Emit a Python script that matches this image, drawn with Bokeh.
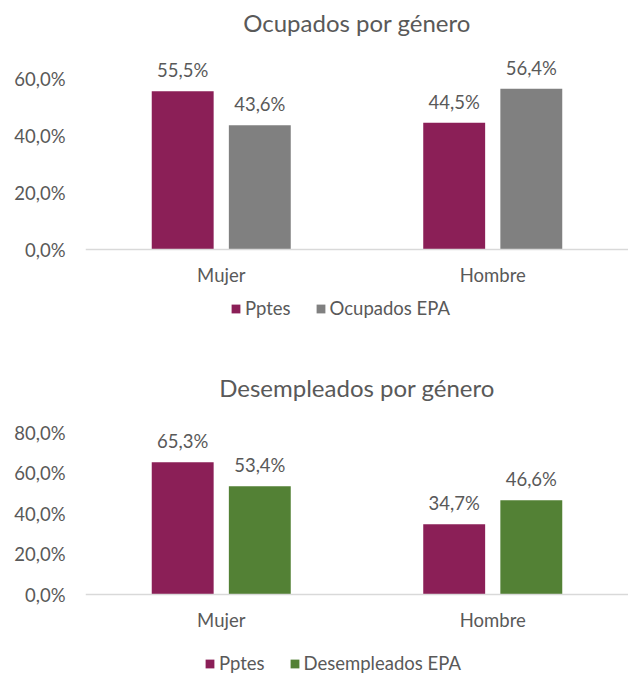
from bokeh.plotting import figure
from bokeh.layouts import column
from bokeh.models import FactorRange, Range1d, FixedTicker, Legend, LegendItem, ColumnDataSource, Span
from bokeh.transform import dodge
from bokeh.core.properties import value
from bokeh.embed import file_html
from bokeh.resources import INLINE

categories = ["Mujer", "Hombre"]
ocup_pptes = [55.5, 44.5]
ocup_epa = [43.6, 56.4]
desemp_pptes = [65.3, 34.7]
desemp_epa = [53.4, 46.6]
ocup_ticks = [0, 20, 40, 60]
ocup_tick_labels = ["0,0%", "20,0%", "40,0%", "60,0%"]
desemp_ticks = [0, 20, 40, 60, 80]
desemp_tick_labels = ["0,0%", "20,0%", "40,0%", "60,0%", "80,0%"]

FONT = "Lato"
TXT = "#595959"
C_PPTES = "#8B1F57"
C_GRAY = "#808080"
C_GREEN = "#538135"
FS = "18.5px"


def fmt(v):
    return ("%.1f" % v).replace(".", ",") + "%"


def make_chart(title, s1, s2, name1, name2, color2, ticks, tick_labels, y0, y1,
               width, height, border_left, border_top, legend_loc):
    src = ColumnDataSource(dict(cat=categories, v1=s1, v2=s2, base=[0] * len(categories),
                                t1=[fmt(v) for v in s1], t2=[fmt(v) for v in s2]))
    p = figure(x_range=FactorRange(*categories), y_range=Range1d(y0, y1),
               width=width, height=height, x_axis_location=None,
               output_backend="svg", toolbar_location=None,
               min_border_left=border_left, min_border_right=0,
               min_border_top=border_top, min_border_bottom=0)
    p.x_range.range_padding = 0
    p.outline_line_color = None
    p.grid.visible = False

    p.title.text = title
    p.title.align = "center"
    p.title.text_font = FONT
    p.title.text_font_size = "24px"
    p.title.text_font_style = "normal"
    p.title.text_color = TXT
    p.title.standoff = 0

    p.add_layout(Span(location=0, dimension="width", line_color="#D9D9D9", line_width=1.5))

    r1 = p.vbar(x=dodge("cat", -0.142, range=p.x_range), top="v1", width=0.228,
                source=src, fill_color=C_PPTES, line_color=None)
    r2 = p.vbar(x=dodge("cat", 0.142, range=p.x_range), top="v2", width=0.228,
                source=src, fill_color=color2, line_color=None)
    for off, col, tcol in ((-0.142, "v1", "t1"), (0.142, "v2", "t2")):
        p.text(x=dodge("cat", off, range=p.x_range), y=col, text=tcol, source=src,
               text_font=value(FONT), text_font_size=value(FS), text_color=TXT,
               text_align="center", text_baseline="middle", y_offset=-21)

    # category labels under the baseline
    p.text(x="cat", y="base", text="cat", source=src,
           text_font=value(FONT), text_font_size=value(FS), text_color=TXT,
           text_align="center", text_baseline="middle", y_offset=25)

    ya = p.yaxis[0]
    ya.ticker = FixedTicker(ticks=ticks)
    ya.major_label_overrides = {t: l for t, l in zip(ticks, tick_labels)}
    ya.axis_line_color = None
    ya.major_tick_line_color = None
    ya.minor_tick_line_color = None
    ya.major_tick_out = 0
    ya.major_tick_in = 0
    ya.major_label_standoff = 20
    ya.major_label_text_font = FONT
    ya.major_label_text_font_size = FS
    ya.major_label_text_color = TXT

    legend = Legend(items=[LegendItem(label=name1, renderers=[r1]),
                           LegendItem(label=name2, renderers=[r2])],
                    orientation="horizontal", location=legend_loc)
    legend.border_line_color = None
    legend.background_fill_alpha = 0
    legend.label_text_font = FONT
    legend.label_text_font_size = FS
    legend.label_text_color = TXT
    legend.glyph_width = 11
    legend.glyph_height = 11
    legend.label_standoff = 4
    legend.spacing = 24
    legend.padding = 0
    legend.margin = 0
    p.add_layout(legend, "center")
    return p


# top chart: frame 36..345 px, zero line 213 px below frame top, 2.85 px per percent
p1 = make_chart("Ocupados por género", ocup_pptes, ocup_epa, "Pptes", "Ocupados EPA", C_GRAY,
                ocup_ticks, ocup_tick_labels, -96 / 2.85, 213 / 2.85,
                628, 345, 83, 36, (145, 26))
# bottom chart: frame 56..330 px, zero line 193 px below frame top, 2.025 px per percent
p2 = make_chart("Desempleados por género", desemp_pptes, desemp_epa, "Pptes", "Desempleados EPA", C_GREEN,
                desemp_ticks, desemp_tick_labels, -81 / 2.025, 193 / 2.025,
                628, 330, 85, 56, (119, 1))

layout = column(p1, p2, spacing=0)
open("out.html", "w").write(file_html(layout, INLINE))
